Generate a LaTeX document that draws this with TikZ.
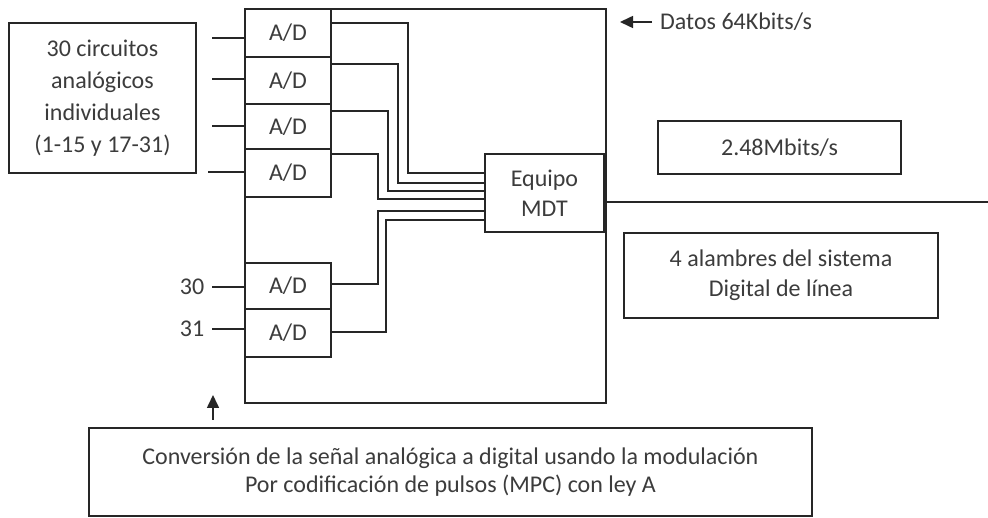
\documentclass[tikz,border=0pt]{standalone}
\usepackage{fontspec}
\setmainfont{Carlito}
\usetikzlibrary{arrows.meta,calc}
\definecolor{linec}{HTML}{262626}
\definecolor{txtc}{HTML}{3C3C3C}
\begin{document}
\begin{tikzpicture}[x=1pt,y=-1pt,
  box/.style={draw=linec,line width=1.6pt,inner sep=0pt,outer sep=0pt,anchor=north west,align=center,text=txtc,font=\fontsize{24}{28}\selectfont},
  wire/.style={draw=linec,line width=1.6pt},
  lbl/.style={text=txtc,font=\fontsize{24}{28}\selectfont,inner sep=0pt},
  tip/.style={-{Triangle[length=13pt,width=12pt]}}]
\useasboundingbox[fill=white] (0,0) rectangle (988,518);
% main rack
\node[box,minimum width=361pt,minimum height=394pt,line width=2pt] (main) at (245,9) {};
% A/D converters
\node[box,minimum width=86pt,minimum height=48pt] (ad1) at (245,9) {A/D};
\node[box,minimum width=86pt,minimum height=47pt] (ad2) at (245,57) {A/D};
\node[box,minimum width=86pt,minimum height=45pt] (ad3) at (245,104) {A/D};
\node[box,minimum width=86pt,minimum height=48pt] (ad4) at (245,149) {A/D};
\node[box,minimum width=86pt,minimum height=46pt] (ad5) at (245,263) {A/D};
\node[box,minimum width=86pt,minimum height=48pt] (ad6) at (245,309) {A/D};
% MDT
\node[box,minimum width=119pt,minimum height=78pt,font=\fontsize{24}{30}\selectfont] (mdt) at (485,154) {Equipo\\MDT};
% left box
\node[box,minimum width=187pt,minimum height=150pt,font=\fontsize{24}{32}\selectfont] (left) at (9,23) {30 circuitos\\analógicos\\individuales\\(1-15 y 17-31)};
% right boxes
\node[box,minimum width=243pt,minimum height=53pt] (rate) at (658,121) {2.48Mbits/s};
\node[box,minimum width=314pt,minimum height=85pt,font=\fontsize{24}{30}\selectfont] (wires) at (624,233) {4 alambres del sistema\\Digital de línea};
% bottom box
\node[box,minimum width=723pt,minimum height=88pt] (conv) at (89,428) {Conversión de la señal analógica a digital usando la modulación\\Por codificación de pulsos (MPC) con ley A};
% inputs
\coordinate (in1) at (212,38);
\coordinate (in2) at (212,79);
\coordinate (in3) at (212,126);
\coordinate (in4) at (208,172);
\draw[wire] (in1) -- (in1 -| ad1.west);
\draw[wire] (in2) -- (in2 -| ad2.west);
\draw[wire] (in3) -- (in3 -| ad3.west);
\draw[wire] (in4) -- (in4 -| ad4.west);
\node[lbl] (n30) at (192,287) {30};
\node[lbl] (n31) at (192,329) {31};
\draw[wire] ([xshift=8pt]n30.east) -- (n30 -| ad5.west);
\draw[wire] ([xshift=8pt]n31.east) -- (n31 -| ad6.west);
% multiplexer wires
\draw[wire] (ad1.east |- 0,23) -| (408,173) -- (mdt.west |- 0,173);
\draw[wire] (ad2.east |- 0,64) -| (398,183) -- (mdt.west |- 0,183);
\draw[wire] (ad3.east |- 0,111) -| (388,191) -- (mdt.west |- 0,191);
\draw[wire] (ad4.east |- 0,154) -| (378,199) -- (mdt.west |- 0,199);
\draw[wire] (ad5.east |- 0,284) -| (378,211) -- (mdt.west |- 0,211);
\draw[wire] (ad6.east |- 0,332) -| (386,220) -- (mdt.west |- 0,220);
% output line
\coordinate (out) at (988,202);
\draw[wire] (mdt.east |- out) -- (out);
% data label
\node[lbl,anchor=west] (datos) at (660,22) {Datos 64Kbits/s};
\draw[wire,tip] ([xshift=-8pt]datos.west) -- ++(-32,0);
% arrow to converters
\coordinate (up0) at (213,420);
\coordinate (up1) at (213,395);
\draw[wire,tip] (up0) -- (up1);
\end{tikzpicture}
\end{document}
